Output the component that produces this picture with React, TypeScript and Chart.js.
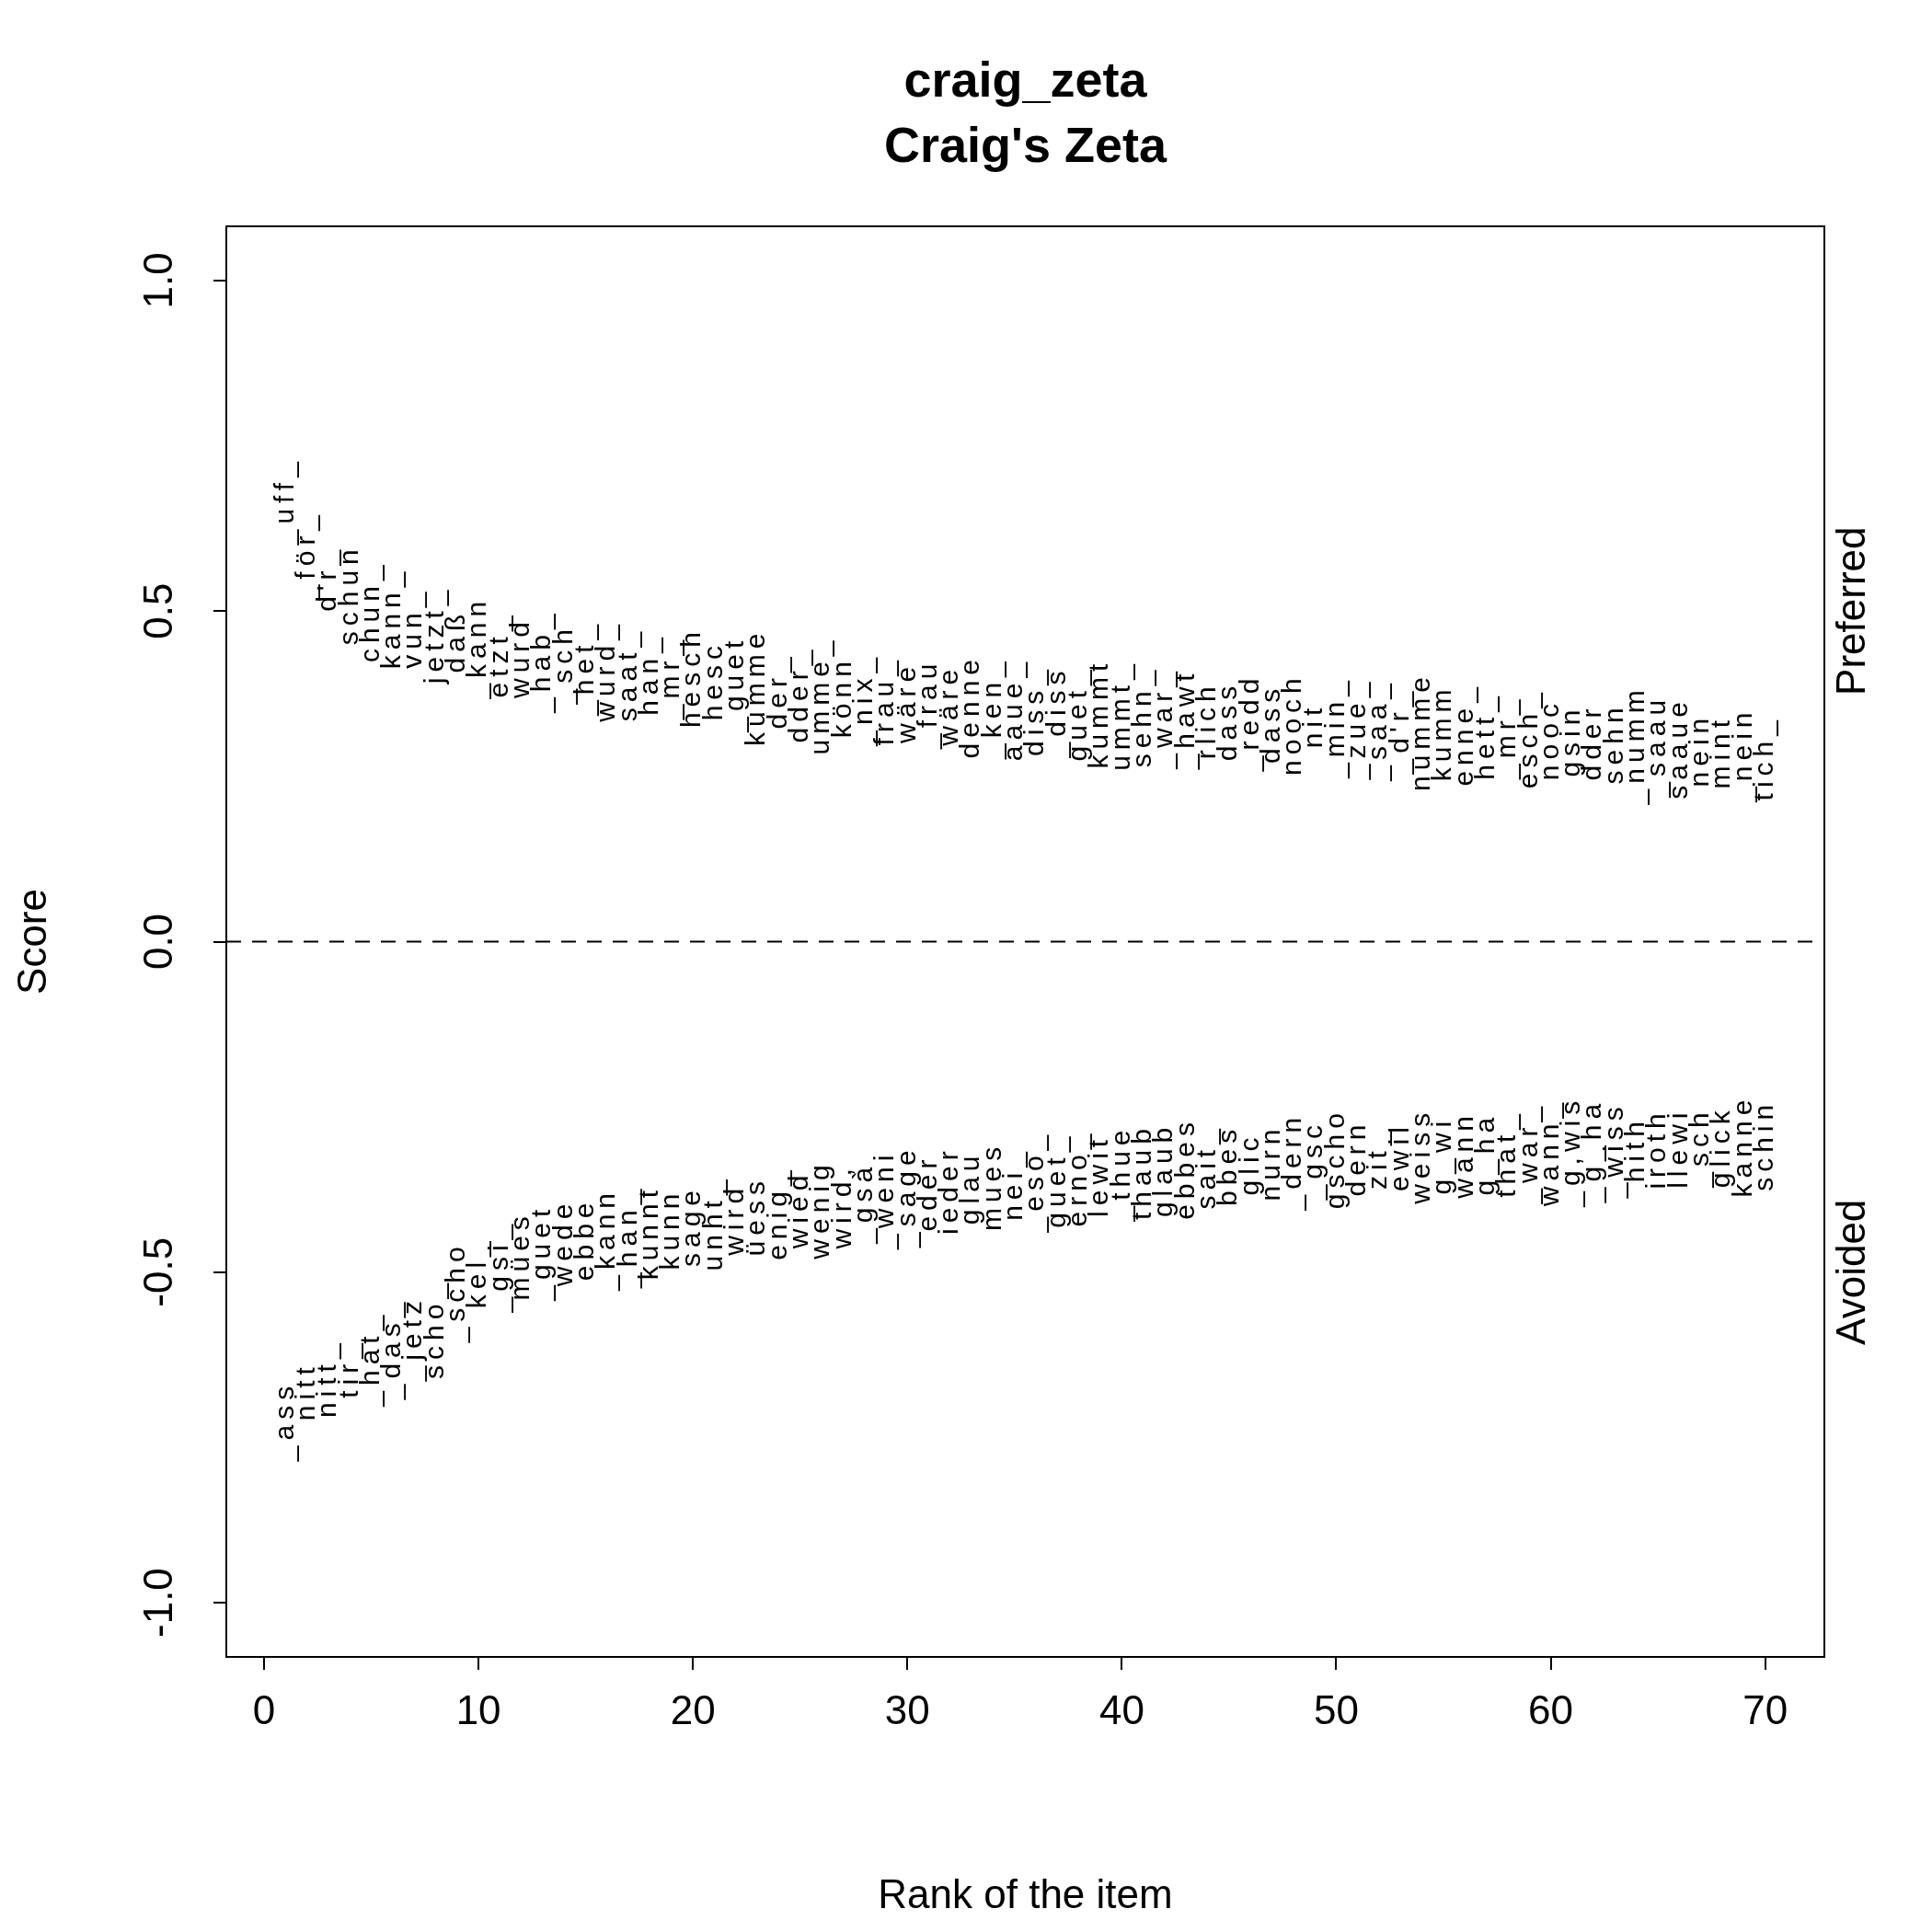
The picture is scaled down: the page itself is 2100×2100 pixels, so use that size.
import React, { useEffect, useRef } from "react";
import { Chart, registerables } from "chart.js";

Chart.register(...registerables);

const preferredWords = [
  "_uff_", "_för_", "d'r_", "schun", "chun_", "kann_", "vun_", "jetzt_", "daß", "_kann",
  "etzt_", "wurd", "_hab_", "_sch", "_het_", "wurd_", "saat_", "han_", "_mr_", "hesch",
  "hesc", "_guet", "kumme", "der_", "dder_", "umme_", "könn", "_nix_", "frau_", "wäre",
  "_frau", "wäre", "denne", "_ken_", "aaue_", "diss_", "_diss", "guet_", "kummt", "ummt_",
  "sehn_", "_war_", "_hawt", "rlich", "dass", "_redd", "dass", "nooch", "nit", "_min_",
  "_zue_", "_saa_", "_d'r_", "numme", "kumm", "enne_", "hett_", "_mr_", "esch_", "nooc",
  "gsin", "dder", "sehn", "_numm", "_saau", "saaue", "nein", "mint", "_nein", "tich_",
];
const preferredScores = [
  0.667, 0.585, 0.55, 0.525, 0.5, 0.49, 0.475, 0.465, 0.455, 0.445,
  0.435, 0.43, 0.425, 0.42, 0.415, 0.41, 0.405, 0.405, 0.4, 0.4,
  0.395, 0.39, 0.385, 0.38, 0.375, 0.373, 0.37, 0.367, 0.365, 0.362,
  0.36, 0.358, 0.356, 0.354, 0.352, 0.35, 0.348, 0.346, 0.345, 0.343,
  0.341, 0.339, 0.337, 0.335, 0.334, 0.332, 0.33, 0.329, 0.327, 0.325,
  0.323, 0.321, 0.32, 0.318, 0.316, 0.314, 0.312, 0.31, 0.308, 0.306,
  0.304, 0.302, 0.3, 0.298, 0.296, 0.293, 0.29, 0.287, 0.283, 0.278,
];
const avoidedWords = [
  "_ass", "nitt", "nitt_", "tir_", "_hat_", "_das_", "_jetz", "scho_", "_scho", "kel_",
  "_gsi_", "mües", "_guet", "wede", "ebbe", "_kann", "_han_", "kunnt", "kunn", "sage",
  "unht_", "wird", "üess", "enig_", "wied", "wenig", "wird,", "_gsà", "_weni", "_sage",
  "eder", "ieder", "glau", "mues", "nei_", "_eso_", "guet_", "erno_", "lewit", "_thue",
  "thaub", "glaub", "ebbes", "sait_", "bbes", "glic", "nurn", "_dern", "_gsc", "gscho",
  "dern", "zit_", "ewil", "weiss", "g_wi", "wann", "g_ha", "that_", "_war_", "wann_",
  "_g,wis", "_g_ha", "_wiss", "hith", "iroth", "llewi", "_sch", "glick", "kanne", "schin",
];
const avoidedScores = [
  -0.725, -0.68, -0.66, -0.645, -0.63, -0.615, -0.6, -0.585, -0.53, -0.5,
  -0.49, -0.475, -0.47, -0.455, -0.45, -0.45, -0.445, -0.44, -0.435, -0.43,
  -0.425, -0.42, -0.415, -0.41, -0.405, -0.405, -0.4, -0.395, -0.39, -0.385,
  -0.38, -0.376, -0.372, -0.37, -0.366, -0.362, -0.36, -0.357, -0.354, -0.35,
  -0.348, -0.345, -0.343, -0.34, -0.338, -0.336, -0.334, -0.332, -0.33, -0.328,
  -0.327, -0.326, -0.325, -0.324, -0.323, -0.322, -0.321, -0.32, -0.319, -0.318,
  -0.317, -0.316, -0.315, -0.314, -0.313, -0.312, -0.311, -0.31, -0.309, -0.308,
];
const xTicks = [0, 10, 20, 30, 40, 50, 60, 70];
const yTicks = [-1, -0.5, 0, 0.5, 1];
const yTickLabels = ["-1.0", "-0.5", "0.0", "0.5", "1.0"];

const FONT = "'Liberation Sans', Arial, sans-serif";

const rotText = (ctx: CanvasRenderingContext2D, s: string, x: number, y: number) => {
  ctx.save();
  ctx.translate(x, y);
  ctx.rotate(-Math.PI / 2);
  ctx.fillText(s, 0, 0);
  ctx.restore();
};

const zetaPlugin = {
  id: "zeta",
  afterDatasetsDraw(chart: any) {
    const { ctx, chartArea: a, scales } = chart;
    const xs = scales.x, ys = scales.y;
    ctx.save();
    // box
    ctx.strokeStyle = "#000";
    ctx.lineWidth = 2;
    ctx.strokeRect(a.left, a.top, a.right - a.left, a.bottom - a.top);
    // zero line
    ctx.setLineDash([16, 12]);
    const y0 = ys.getPixelForValue(0);
    ctx.beginPath();
    ctx.moveTo(a.left, y0);
    ctx.lineTo(a.right, y0);
    ctx.stroke();
    ctx.setLineDash([]);
    // words
    ctx.fillStyle = "#000";
    ctx.font = `30px ${FONT}`;
    (ctx as any).letterSpacing = "6px";
    ctx.textAlign = "center";
    ctx.textBaseline = "middle";
    chart.data.datasets.forEach((ds: any) => {
      ds.data.forEach((p: any) => {
        rotText(ctx, p.w, xs.getPixelForValue(p.x), ys.getPixelForValue(p.y));
      });
    });
    (ctx as any).letterSpacing = "0px";
    // y tick labels
    ctx.font = `44px ${FONT}`;
    yTicks.forEach((v, i) => rotText(ctx, yTickLabels[i], a.left - 71, ys.getPixelForValue(v)));
    // side labels
    rotText(ctx, "Preferred", a.right + 32, ys.getPixelForValue(0.5));
    rotText(ctx, "Avoided", a.right + 32, ys.getPixelForValue(-0.5));
    rotText(ctx, "Score", 30, (a.top + a.bottom) / 2);
    // titles
    ctx.font = `bold 54px ${FONT}`;
    const cx = (a.left + a.right) / 2;
    ctx.fillText("craig_zeta", cx, 82);
    ctx.fillText("Craig's Zeta", cx, 153);
    ctx.restore();
  },
};

const App: React.FC = () => {
  const ref = useRef<HTMLCanvasElement | null>(null);

  useEffect(() => {
    if (!ref.current) return;
    const chart = new Chart(ref.current, {
      type: "scatter",
      data: {
        datasets: [
          {
            data: preferredScores.map((y, i) => ({ x: i + 1, y, w: preferredWords[i] })) as any,
            pointRadius: 0,
          },
          {
            data: avoidedScores.map((y, i) => ({ x: i + 1, y, w: avoidedWords[i] })) as any,
            pointRadius: 0,
          },
        ],
      },
      options: {
        responsive: false,
        animation: false,
        devicePixelRatio: 1,
        layout: { padding: { top: 238, right: 109, left: 0, bottom: 0 } },
        plugins: { legend: { display: false }, tooltip: { enabled: false } },
        scales: {
          x: {
            type: "linear",
            min: -1.76,
            max: 72.76,
            afterBuildTicks: (s: any) => { s.ticks = xTicks.map((v) => ({ value: v })); },
            afterFit: (s: any) => { s.height = 291; },
            border: { display: false },
            grid: { drawOnChartArea: false, tickLength: 14, color: "#000", lineWidth: 2 },
            ticks: { color: "#000", font: { size: 44, family: FONT }, padding: 20, maxRotation: 0 },
            title: { display: true, text: "Rank of the item", color: "#000", font: { size: 44, family: FONT }, padding: { top: 40 } },
          },
          y: {
            type: "linear",
            min: -1.082,
            max: 1.082,
            afterBuildTicks: (s: any) => { s.ticks = yTicks.map((v) => ({ value: v })); },
            afterFit: (s: any) => { s.width = 238; },
            border: { display: false },
            grid: { drawOnChartArea: false, tickLength: 14, color: "#000", lineWidth: 2 },
            ticks: { color: "rgba(0,0,0,0)", font: { size: 44, family: FONT } },
          },
        },
      },
      plugins: [zetaPlugin],
    });
    return () => chart.destroy();
  }, []);

  return <canvas ref={ref} width={2084} height={2084} style={{ display: "block" }} />;
};

export default App;
